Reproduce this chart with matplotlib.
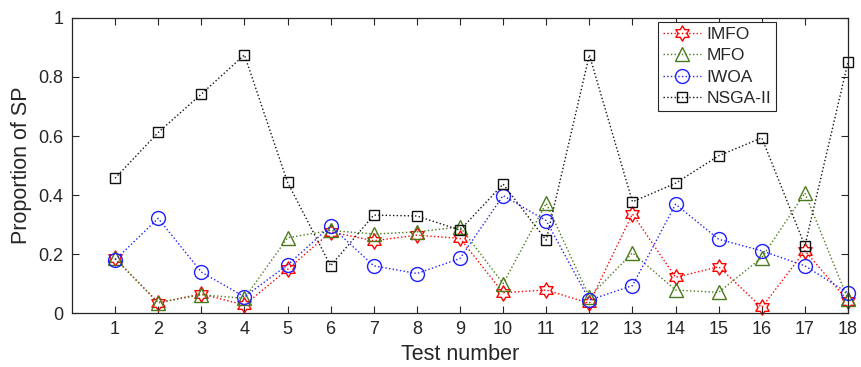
import matplotlib
matplotlib.use("Agg")
import matplotlib.pyplot as plt
import numpy as np
from matplotlib.path import Path

plt.rcParams['font.family'] = ['Liberation Sans', 'DejaVu Sans']

tests = list(range(1, 19))
imfo = [0.185, 0.035, 0.065, 0.027, 0.148, 0.275, 0.245, 0.264, 0.253, 0.069, 0.078, 0.033,
        0.336, 0.121, 0.157, 0.019, 0.211, 0.041]
mfo = [0.185, 0.035, 0.062, 0.050, 0.255, 0.280, 0.268, 0.275, 0.292, 0.100, 0.372, 0.055,
       0.204, 0.078, 0.070, 0.188, 0.407, 0.046]
iwoa = [0.180, 0.321, 0.139, 0.055, 0.163, 0.295, 0.160, 0.134, 0.185, 0.398, 0.313, 0.044,
        0.093, 0.369, 0.250, 0.211, 0.160, 0.068]
nsga = [0.457, 0.612, 0.742, 0.875, 0.443, 0.160, 0.332, 0.329, 0.281, 0.437, 0.247, 0.875,
        0.377, 0.440, 0.533, 0.594, 0.228, 0.851]
names = ['IMFO', 'MFO', 'IWOA', 'NSGA-II']

hexagram = Path.unit_regular_star(6, 1/np.sqrt(3))

fig = plt.figure(figsize=(8.62, 3.67), dpi=100)
ax = fig.add_axes([0.0835, 0.147, 0.9003, 0.804])

axc = '#262626'
kw = dict(ls=':', lw=1.0, mfc='none', mew=1.0, clip_on=False)
ax.plot(tests, imfo, color='#ff0000', marker=hexagram, ms=11, label=names[0], **kw)
ax.plot(tests, mfo, color='#4a7a1c', marker='^', ms=10, label=names[1], **kw)
ax.plot(tests, iwoa, color='#1f1fff', marker='o', ms=10, label=names[2], **kw)
ax.plot(tests, nsga, color='#111111', marker='s', ms=7, label=names[3], **kw)

ax.set_xlim(0, 18)
ax.set_ylim(0, 1)
ax.set_xticks(tests)
ax.set_xticklabels([str(t) for t in tests])
ax.set_yticks([0, 0.2, 0.4, 0.6, 0.8, 1.0])
ax.set_yticklabels(['0', '0.2', '0.4', '0.6', '0.8', '1'])
ax.tick_params(direction='in', top=True, right=True, length=5, width=0.8, labelsize=13,
               colors=axc, pad=6)
for s in ax.spines.values():
    s.set_color(axc)
    s.set_linewidth(0.9)
ax.set_xlabel('Test number', fontsize=15.5, color=axc, labelpad=4)
ax.set_ylabel('Proportion of SP', fontsize=15.5, color=axc, labelpad=5)

leg = ax.legend(loc='upper left', bbox_to_anchor=(0.755, 0.987), fontsize=12.5, frameon=True,
                fancybox=False, edgecolor=axc, framealpha=1, handlelength=2.2,
                borderpad=0.3, labelspacing=0.35, handletextpad=0.3, borderaxespad=0)
leg.get_frame().set_linewidth(0.8)
for t in leg.get_texts():
    t.set_color(axc)

fig.savefig('out.png', dpi=100)
